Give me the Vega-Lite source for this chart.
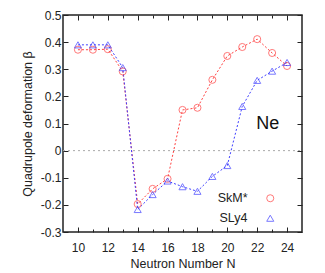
{
  "$schema": "https://vega.github.io/schema/vega-lite/v6.json",
  "width": 239,
  "height": 217,
  "autosize": "none",
  "padding": {"left": 63, "top": 15, "right": 23, "bottom": 41},
  "config": {
    "view": {"stroke": "#222", "strokeWidth": 1.5},
    "font": "Liberation Sans",
    "axis": {
      "domain": false, "grid": false, "tickColor": "#222", "tickWidth": 1,
      "labelColor": "#222", "titleColor": "#222", "labelFontSize": 12,
      "titleFontSize": 12.5, "titleFontWeight": "normal"
    }
  },
  "datasets": {
    "ne": [
      {"N": 10, "beta": 0.372, "model": "SkM*"},
      {"N": 11, "beta": 0.372, "model": "SkM*"},
      {"N": 12, "beta": 0.374, "model": "SkM*"},
      {"N": 13, "beta": 0.292, "model": "SkM*"},
      {"N": 14, "beta": -0.197, "model": "SkM*"},
      {"N": 15, "beta": -0.141, "model": "SkM*"},
      {"N": 16, "beta": -0.104, "model": "SkM*"},
      {"N": 17, "beta": 0.150, "model": "SkM*"},
      {"N": 18, "beta": 0.158, "model": "SkM*"},
      {"N": 19, "beta": 0.261, "model": "SkM*"},
      {"N": 20, "beta": 0.349, "model": "SkM*"},
      {"N": 21, "beta": 0.382, "model": "SkM*"},
      {"N": 22, "beta": 0.411, "model": "SkM*"},
      {"N": 23, "beta": 0.360, "model": "SkM*"},
      {"N": 24, "beta": 0.312, "model": "SkM*"},
      {"N": 10, "beta": 0.390, "model": "SLy4"},
      {"N": 11, "beta": 0.390, "model": "SLy4"},
      {"N": 12, "beta": 0.390, "model": "SLy4"},
      {"N": 13, "beta": 0.306, "model": "SLy4"},
      {"N": 14, "beta": -0.217, "model": "SLy4"},
      {"N": 15, "beta": -0.162, "model": "SLy4"},
      {"N": 16, "beta": -0.112, "model": "SLy4"},
      {"N": 17, "beta": -0.133, "model": "SLy4"},
      {"N": 18, "beta": -0.150, "model": "SLy4"},
      {"N": 19, "beta": -0.095, "model": "SLy4"},
      {"N": 20, "beta": -0.055, "model": "SLy4"},
      {"N": 21, "beta": 0.163, "model": "SLy4"},
      {"N": 22, "beta": 0.259, "model": "SLy4"},
      {"N": 23, "beta": 0.293, "model": "SLy4"},
      {"N": 24, "beta": 0.325, "model": "SLy4"}
    ],
    "zero": [{"x0": 9, "x1": 25, "y": 0}],
    "label": [{"N": 22.7, "beta": 0.1, "text": "Ne"}]
  },
  "resolve": {"axis": {"x": "independent", "y": "independent"}},
  "layer": [
    {
      "data": {"name": "zero"},
      "mark": {"type": "rule", "color": "#aaaaaa", "strokeDash": [2, 3], "strokeWidth": 1},
      "encoding": {
        "x": {"field": "x0", "type": "quantitative",
          "scale": {"domain": [9, 25], "nice": false, "zero": false},
          "axis": {"orient": "top", "values": [11, 13, 15, 17, 19, 21, 23], "tickSize": -3, "labels": false, "title": null}},
        "x2": {"field": "x1"},
        "y": {"field": "y", "type": "quantitative",
          "scale": {"domain": [-0.3, 0.5], "nice": false, "zero": false}, "axis": null}
      }
    },
    {
      "data": {"name": "ne"},
      "transform": [{"filter": "datum.model == 'SkM*'"}],
      "mark": {"type": "line", "color": "#ff4040", "strokeDash": [2, 2], "strokeWidth": 1},
      "encoding": {
        "x": {"field": "N", "type": "quantitative",
          "scale": {"domain": [9, 25], "nice": false, "zero": false},
          "axis": {"orient": "bottom", "values": [10, 12, 14, 16, 18, 20, 22, 24], "tickSize": -5, "labelPadding": 15, "title": "Neutron Number N", "titlePadding": 4}},
        "y": {"field": "beta", "type": "quantitative",
          "scale": {"domain": [-0.3, 0.5], "nice": false, "zero": false},
          "axis": {"orient": "left", "values": [-0.3, -0.2, -0.1, 0, 0.1, 0.2, 0.3, 0.4, 0.5], "tickSize": -5, "labelPadding": 7,
            "labelExpr": "datum.value == 0 ? '0' : replace(format(datum.value, '.1f'), '\u2212', '-')",
            "title": "Quadrupole deformation \u03b2", "titlePadding": 6}}
      }
    },
    {
      "data": {"name": "ne"},
      "transform": [{"filter": "datum.model == 'SLy4'"}],
      "mark": {"type": "line", "color": "#4040ff", "strokeDash": [2, 2], "strokeWidth": 1},
      "encoding": {
        "x": {"field": "N", "type": "quantitative",
          "scale": {"domain": [9, 25], "nice": false, "zero": false}, "axis": null},
        "y": {"field": "beta", "type": "quantitative",
          "scale": {"domain": [-0.3, 0.5], "nice": false, "zero": false}, "axis": null}
      }
    },
    {
      "data": {"name": "ne"},
      "mark": {"type": "point", "filled": false, "size": 50, "strokeWidth": 1},
      "encoding": {
        "x": {"field": "N", "type": "quantitative",
          "scale": {"domain": [9, 25], "nice": false, "zero": false},
          "axis": {"orient": "bottom", "values": [11, 13, 15, 17, 19, 21, 23], "tickSize": -3, "labels": false, "title": null}},
        "y": {"field": "beta", "type": "quantitative",
          "scale": {"domain": [-0.3, 0.5], "nice": false, "zero": false},
          "axis": {"orient": "right", "values": [-0.3, -0.2, -0.1, 0, 0.1, 0.2, 0.3, 0.4, 0.5], "tickSize": -5, "labels": false, "title": null}},
        "color": {"field": "model", "type": "nominal",
          "scale": {"domain": ["SkM*", "SLy4"], "range": ["#ff4040", "#4040ff"]},
          "legend": {"orient": "none", "legendX": 201, "legendY": 177, "title": null, "padding": 0,
            "labelAlign": "right", "labelOffset": -29, "labelFontSize": 12.5, "labelColor": "#222",
            "symbolSize": 50, "symbolStrokeWidth": 1, "rowPadding": 7}},
        "shape": {"field": "model", "type": "nominal",
          "scale": {"domain": ["SkM*", "SLy4"], "range": ["circle", "triangle-up"]},
          "legend": {"orient": "none", "legendX": 201, "legendY": 177, "title": null, "padding": 0,
            "labelAlign": "right", "labelOffset": -29, "labelFontSize": 12.5, "labelColor": "#222",
            "symbolSize": 50, "symbolStrokeWidth": 1, "rowPadding": 7}}
      }
    },
    {
      "data": {"name": "label"},
      "mark": {"type": "text", "fontSize": 18, "color": "#111", "align": "center", "baseline": "middle"},
      "encoding": {
        "x": {"field": "N", "type": "quantitative",
          "scale": {"domain": [9, 25], "nice": false, "zero": false},
          "axis": {"orient": "top", "values": [10, 12, 14, 16, 18, 20, 22, 24], "tickSize": -5, "labels": false, "title": null}},
        "y": {"field": "beta", "type": "quantitative",
          "scale": {"domain": [-0.3, 0.5], "nice": false, "zero": false}, "axis": null},
        "text": {"field": "text"}
      }
    }
  ]
}
